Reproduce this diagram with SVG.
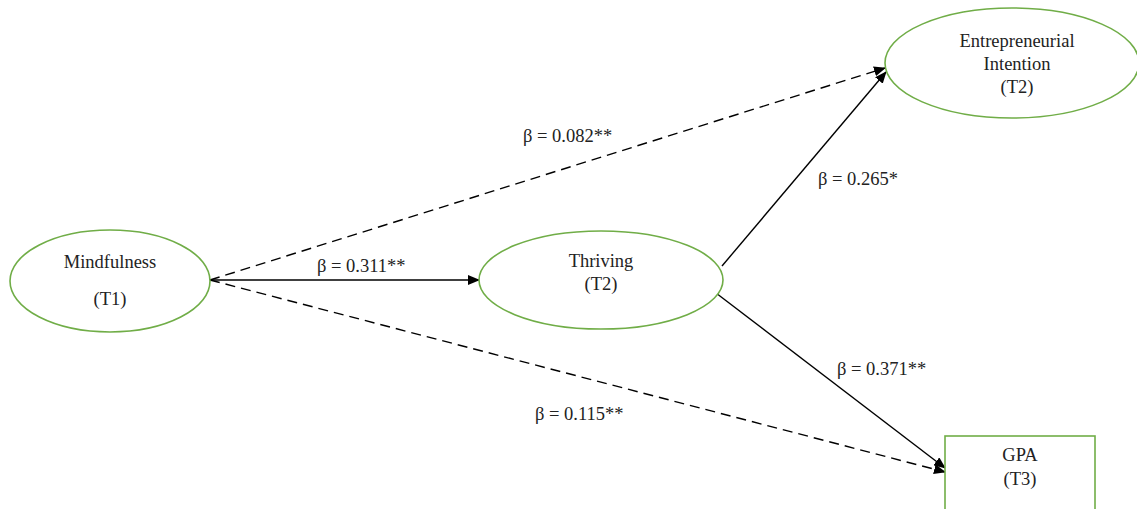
<svg xmlns="http://www.w3.org/2000/svg" width="1137" height="509" viewBox="0 0 1137 509">
<defs>
<marker id="ah" markerWidth="12" markerHeight="10" refX="11" refY="5" orient="auto" markerUnits="userSpaceOnUse">
<path d="M0,0 L12,5 L0,10 Z" fill="#000"/>
</marker>
<style>
.node{fill:#fff;stroke:#70ad47;stroke-width:1.6}
.t{font-family:"Liberation Serif","Times New Roman",serif;font-size:18.5px;fill:#222;text-anchor:middle}
.lb{font-family:"Liberation Serif","Times New Roman",serif;font-size:18.5px;fill:#222}
.c{stroke:#000;stroke-width:1.4;fill:none;marker-end:url(#ah)}
.d{stroke-dasharray:10 6}
</style>
</defs>
<rect width="1137" height="509" fill="#fff"/>
<g id="connectors">
<line class="c" x1="210" y1="280" x2="479" y2="280"/>
<line class="c d" x1="210" y1="280" x2="885" y2="68"/>
<line class="c d" x1="210" y1="280" x2="945" y2="472"/>
<line class="c" x1="722" y1="266" x2="886" y2="72"/>
<line class="c" x1="716" y1="293" x2="945" y2="468"/>
</g>
<g id="labels">
<text class="lb" x="317" y="272">β = 0.311**</text>
<text class="lb" x="523" y="142">β = 0.082**</text>
<text class="lb" x="818" y="185">β = 0.265*</text>
<text class="lb" x="837" y="375">β = 0.371**</text>
<text class="lb" x="535" y="420">β = 0.115**</text>
</g>
<g id="mindfulness">
<ellipse class="node" cx="110" cy="281" rx="100" ry="51"/>
<text class="t" x="110" y="268">Mindfulness</text>
<text class="t" x="110" y="305">(T1)</text>
</g>
<g id="thriving">
<ellipse class="node" cx="601" cy="280" rx="122" ry="49"/>
<text class="t" x="601" y="267">Thriving</text>
<text class="t" x="601" y="290">(T2)</text>
</g>
<g id="entrepreneurial">
<ellipse class="node" cx="1012" cy="63" rx="127" ry="55"/>
<text class="t" x="1017" y="47">Entrepreneurial</text>
<text class="t" x="1017" y="70">Intention</text>
<text class="t" x="1017" y="93">(T2)</text>
</g>
<g id="gpa">
<rect class="node" x="945" y="436" width="150" height="90"/>
<text class="t" x="1020" y="461">GPA</text>
<text class="t" x="1020" y="485">(T3)</text>
</g>
</svg>
